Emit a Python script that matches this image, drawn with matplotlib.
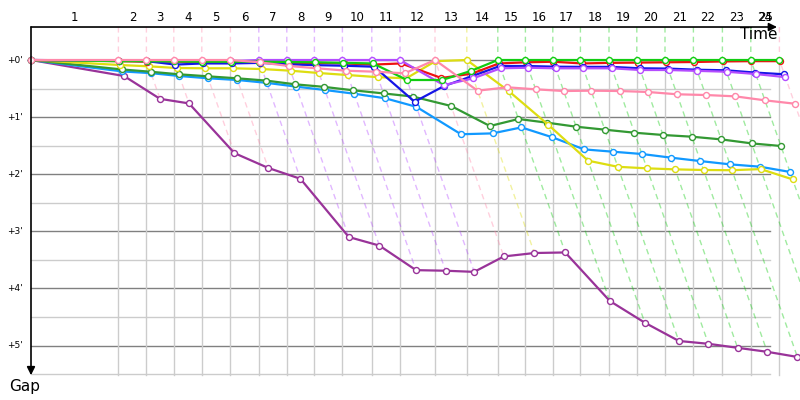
import matplotlib
matplotlib.use("Agg")
import matplotlib.pyplot as plt

# leader's elapsed time (minutes) when each lap is completed
leader_time = [4.37, 5.77, 7.14, 8.54, 9.97, 11.39, 12.79, 14.17, 15.57, 17.04,
               18.45, 20.20, 21.79, 23.34, 24.72, 26.09, 27.47, 28.90, 30.29, 31.70,
               33.12, 34.57, 35.99, 37.42]
lap_labels = [str(n) for n in range(1, 26)]

# who led at each lap (colour of the dashed time line)
lap_leader = ["pink"] * 5 + ["violet"] * 6 + ["pink", "yellow"] + ["green"] * 10 + ["pink"]

# gap to the leader (minutes) at the end of each lap
gap_purple = [0.28, 0.68, 0.76, 1.63, 1.89, 2.08, 3.10, 3.25, 3.68, 3.69, 3.71, 3.44,
              3.38, 3.37, 4.22, 4.60, 4.92, 4.97, 5.04, 5.11, 5.20]
gap_skyblue = [0.20, 0.23, 0.28, 0.32, 0.35, 0.40, 0.466, 0.525, 0.59, 0.67, 0.82, 1.30,
               1.285, 1.18, 1.354, 1.565, 1.605, 1.646, 1.71, 1.77, 1.827, 1.868, 1.96]
gap_darkgreen = [0.165, 0.205, 0.25, 0.285, 0.32, 0.36, 0.426, 0.47, 0.53, 0.585, 0.64,
                 0.805, 1.156, 1.033, 1.098, 1.168, 1.22, 1.273, 1.313, 1.343, 1.39,
                 1.46, 1.506]
gap_yellow = [0.088, 0.11, 0.14, 0.145, 0.145, 0.158, 0.187, 0.228, 0.263, 0.30, 0.32,
              0.02, 0.0, 0.543, 1.13, 1.763, 1.87, 1.897, 1.915, 1.926, 1.93, 1.91, 2.09]
gap_red = [0.02, 0.03, 0.03, 0.04, 0.04, 0.04, 0.05, 0.05, 0.06, 0.08, 0.06, 0.315,
           0.24, 0.06, 0.04, 0.03, 0.06, 0.05, 0.045, 0.04, 0.035, 0.025, 0.02, 0.02]
gap_blue = [0.01, 0.02, 0.08, 0.06, 0.06, 0.05, 0.075, 0.09, 0.10, 0.117, 0.73, 0.455,
            0.28, 0.105, 0.105, 0.117, 0.12, 0.12, 0.145, 0.15, 0.17, 0.18, 0.22, 0.25]
gap_violet = [0.01, 0.015, 0.02, 0.02, 0.02, 0, 0, 0, 0, 0, 0, 0.44, 0.32, 0.145, 0.135,
              0.145, 0.145, 0.145, 0.175, 0.175, 0.19, 0.205, 0.245, 0.30]
gap_green = [0.02, 0.02, 0.025, 0.03, 0.03, 0.03, 0.035, 0.04, 0.05, 0.06, 0.35, 0.35,
             0.193, 0, 0, 0, 0, 0, 0, 0, 0, 0, 0, 0]
gap_pink = [0, 0, 0, 0, 0, 0.04, 0.105, 0.145, 0.187, 0.205, 0.233, 0, 0.537, 0.478,
            0.513, 0.543, 0.537, 0.543, 0.56, 0.60, 0.613, 0.636, 0.706, 0.765]

colors = {"purple": "#993399", "skyblue": "#1199ff", "darkgreen": "#339933",
          "yellow": "#dddd11", "red": "#ee1111", "blue": "#1515e6",
          "violet": "#b44cff", "green": "#11cc11", "pink": "#ff88aa"}

drivers = [("purple", gap_purple), ("skyblue", gap_skyblue), ("darkgreen", gap_darkgreen),
           ("yellow", gap_yellow), ("red", gap_red), ("blue", gap_blue),
           ("violet", gap_violet), ("green", gap_green), ("pink", gap_pink)]

gap_ticks = [0, 1, 2, 3, 4, 5]

# layout (data units: minutes on both axes)
y_top = -0.578
y_bottom = 5.52
x_hline_end = 36.95

fig = plt.figure(figsize=(8, 4), dpi=100)
ax = fig.add_axes([0, 0, 1, 1])
ax.set_xlim(-1.55, 38.45)
ax.set_ylim(5.954, -1.051)
ax.axis("off")

# horizontal grid: whole minutes dark, half minutes light
for g in gap_ticks:
    ax.plot([0, x_hline_end], [g, g], color="#808080", lw=1.0, zorder=1)
    ax.plot([0, x_hline_end], [g + 0.5, g + 0.5], color="#cccccc", lw=1.0, zorder=1)
    ax.text(-0.4, g, "+%d'" % g, ha="right", va="center", fontsize=6.5)

# lap lines and isochrones
for i, t in enumerate(leader_time):
    ax.plot([t, t], [0, y_bottom], color="#cccccc", lw=1.0, zorder=1)
    if all(len(g) > i for _, g in drivers):
        g_end = max(g[i] for _, g in drivers)
    else:
        g_end = y_bottom + 1
    ax.plot([t, t, t + g_end], [y_top, 0, g_end], color=colors[lap_leader[i]],
            alpha=0.4, lw=1.0, dashes=(4, 3), zorder=2)

# lap numbers centred on each lap
starts = [0] + leader_time[:-1]
for i, lab in enumerate(lap_labels):
    if i < len(leader_time):
        mid = (starts[i] + leader_time[i]) / 2
    else:
        mid = leader_time[-1] + 0.7
    mid = min(mid, 36.75)
    ax.text(mid, -0.74, lab, ha="center", va="center", fontsize=8.5)

# driver lines
for name, g in drivers:
    xs = [0] + [leader_time[i] + v for i, v in enumerate(g)]
    ys = [0] + list(g)
    ax.plot(xs, ys, color=colors[name], lw=1.6, marker="o", ms=4.3,
            mfc="white", mec=colors[name], mew=1.0, zorder=4)

# axes with arrows
ax.annotate("", xy=(37.3, y_top), xytext=(0, y_top),
            arrowprops=dict(arrowstyle="-|>", color="black", lw=1.2,
                            mutation_scale=12, shrinkA=0, shrinkB=0), zorder=5)
ax.annotate("", xy=(0, y_bottom), xytext=(0, y_top),
            arrowprops=dict(arrowstyle="-|>", color="black", lw=1.2,
                            mutation_scale=12, shrinkA=0, shrinkB=0), zorder=5)
ax.text(37.3, -0.44, "Time", ha="right", va="center", fontsize=11)
ax.text(-0.3, 5.71, "Gap", ha="center", va="center", fontsize=11)

fig.savefig("out.png", dpi=100)
